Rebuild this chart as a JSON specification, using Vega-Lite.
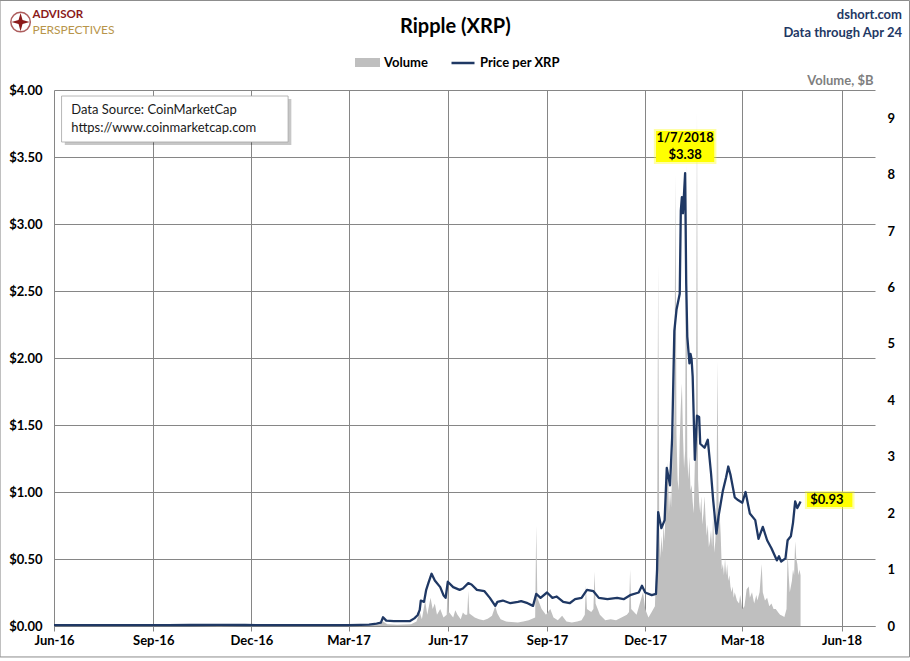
{
  "$schema": "https://vega.github.io/schema/vega-lite/v6.json",
  "width": 821,
  "height": 536,
  "autosize": {"type": "none"},
  "padding": {"left": 54, "top": 90, "right": 35, "bottom": 35},
  "background": "#ffffff",
  "config": {"view": {"stroke": null}, "font": "Lato", "text": {"font": "Lato"}},
  "encoding": {
    "x": {
      "field": "date",
      "type": "temporal",
      "scale": {"domain": [{"year": 2016, "month": 6, "date": 1}, {"year": 2018, "month": 7, "date": 2}], "nice": false},
      "axis": {
        "values": [
          {"year": 2016, "month": 6, "date": 1}, {"year": 2016, "month": 9, "date": 1}, {"year": 2016, "month": 12, "date": 1},
          {"year": 2017, "month": 3, "date": 1}, {"year": 2017, "month": 6, "date": 1}, {"year": 2017, "month": 9, "date": 1},
          {"year": 2017, "month": 12, "date": 1}, {"year": 2018, "month": 3, "date": 1}, {"year": 2018, "month": 6, "date": 1}
        ],
        "format": "%b-%y",
        "title": null,
        "grid": true,
        "gridColor": "#868686",
        "gridWidth": 1,
        "gridOpacity": 1,
        "tickColor": "#868686",
        "tickSize": 5,
        "domainColor": "#868686",
        "labelPadding": 3,
        "labelFlush": false,
        "labelOverlap": false,
        "labelFontSize": 13,
        "labelFontWeight": "bold",
        "labelColor": "#000000"
      }
    }
  },
  "layer": [
    {
      "data": {"values": [
        {"date": "2016-06-01", "vol": 0.003}, {"date": "2016-09-01", "vol": 0.002}, {"date": "2016-12-01", "vol": 0.003},
        {"date": "2017-03-01", "vol": 0.004}, {"date": "2017-03-20", "vol": 0.01}, {"date": "2017-03-30", "vol": 0.03},
        {"date": "2017-04-02", "vol": 0.08}, {"date": "2017-04-06", "vol": 0.03}, {"date": "2017-04-15", "vol": 0.02},
        {"date": "2017-04-28", "vol": 0.03}, {"date": "2017-05-03", "vol": 0.08}, {"date": "2017-05-06", "vol": 0.25},
        {"date": "2017-05-08", "vol": 0.12}, {"date": "2017-05-11", "vol": 0.45}, {"date": "2017-05-13", "vol": 0.2},
        {"date": "2017-05-16", "vol": 0.5}, {"date": "2017-05-18", "vol": 0.3}, {"date": "2017-05-20", "vol": 0.4},
        {"date": "2017-05-22", "vol": 0.2}, {"date": "2017-05-25", "vol": 0.3}, {"date": "2017-05-28", "vol": 0.15},
        {"date": "2017-05-31", "vol": 0.2}, {"date": "2017-06-01", "vol": 0.78}, {"date": "2017-06-02", "vol": 0.25},
        {"date": "2017-06-06", "vol": 0.15}, {"date": "2017-06-08", "vol": 0.28}, {"date": "2017-06-10", "vol": 0.2},
        {"date": "2017-06-13", "vol": 0.12}, {"date": "2017-06-15", "vol": 0.24},
        {"date": "2017-06-17", "vol": 0.2}, {"date": "2017-06-19", "vol": 0.2}, {"date": "2017-06-20", "vol": 0.62},
        {"date": "2017-06-21", "vol": 0.22}, {"date": "2017-06-26", "vol": 0.15}, {"date": "2017-06-30", "vol": 0.12},
        {"date": "2017-07-04", "vol": 0.1}, {"date": "2017-07-08", "vol": 0.13}, {"date": "2017-07-12", "vol": 0.18},
        {"date": "2017-07-15", "vol": 0.35}, {"date": "2017-07-17", "vol": 0.22}, {"date": "2017-07-20", "vol": 0.12},
        {"date": "2017-07-25", "vol": 0.08}, {"date": "2017-07-30", "vol": 0.07}, {"date": "2017-08-05", "vol": 0.06},
        {"date": "2017-08-10", "vol": 0.08}, {"date": "2017-08-15", "vol": 0.1}, {"date": "2017-08-21", "vol": 0.15},
        {"date": "2017-08-22", "vol": 1.78}, {"date": "2017-08-23", "vol": 0.5}, {"date": "2017-08-27", "vol": 0.3},
        {"date": "2017-08-31", "vol": 0.2}, {"date": "2017-09-04", "vol": 0.3}, {"date": "2017-09-07", "vol": 0.15},
        {"date": "2017-09-11", "vol": 0.1}, {"date": "2017-09-15", "vol": 0.18}, {"date": "2017-09-19", "vol": 0.08},
        {"date": "2017-09-24", "vol": 0.06}, {"date": "2017-09-29", "vol": 0.08}, {"date": "2017-10-03", "vol": 0.1},
        {"date": "2017-10-06", "vol": 0.2}, {"date": "2017-10-07", "vol": 0.72}, {"date": "2017-10-08", "vol": 0.3},
        {"date": "2017-10-12", "vol": 0.25}, {"date": "2017-10-14", "vol": 0.3}, {"date": "2017-10-15", "vol": 0.96},
        {"date": "2017-10-16", "vol": 0.4}, {"date": "2017-10-20", "vol": 0.2}, {"date": "2017-10-25", "vol": 0.1},
        {"date": "2017-10-30", "vol": 0.12}, {"date": "2017-11-04", "vol": 0.1}, {"date": "2017-11-09", "vol": 0.15},
        {"date": "2017-11-14", "vol": 0.2}, {"date": "2017-11-16", "vol": 0.25}, {"date": "2017-11-17", "vol": 1.0},
        {"date": "2017-11-18", "vol": 0.3}, {"date": "2017-11-23", "vol": 0.2}, {"date": "2017-11-26", "vol": 0.4},
        {"date": "2017-11-29", "vol": 0.6}, {"date": "2017-12-01", "vol": 0.3}, {"date": "2017-12-04", "vol": 0.15},
        {"date": "2017-12-07", "vol": 0.25}, {"date": "2017-12-10", "vol": 0.35}, {"date": "2017-12-12", "vol": 1.5},
        {"date": "2017-12-13", "vol": 6.4}, {"date": "2017-12-14", "vol": 1.7}, {"date": "2017-12-15", "vol": 1.2},
        {"date": "2017-12-16", "vol": 1.6}, {"date": "2017-12-17", "vol": 1.3}, {"date": "2017-12-18", "vol": 1.8},
        {"date": "2017-12-19", "vol": 1.5}, {"date": "2017-12-20", "vol": 2.3}, {"date": "2017-12-21", "vol": 2.6},
        {"date": "2017-12-22", "vol": 2.9}, {"date": "2017-12-23", "vol": 2.0}, {"date": "2017-12-24", "vol": 2.4},
        {"date": "2017-12-25", "vol": 2.1}, {"date": "2017-12-26", "vol": 2.8}, {"date": "2017-12-27", "vol": 3.3},
        {"date": "2017-12-28", "vol": 3.6}, {"date": "2017-12-29", "vol": 8.0}, {"date": "2017-12-30", "vol": 3.4},
        {"date": "2017-12-31", "vol": 2.6}, {"date": "2018-01-01", "vol": 2.4}, {"date": "2018-01-02", "vol": 3.3},
        {"date": "2018-01-03", "vol": 3.9}, {"date": "2018-01-04", "vol": 4.3}, {"date": "2018-01-05", "vol": 3.4},
        {"date": "2018-01-06", "vol": 2.8}, {"date": "2018-01-07", "vol": 3.1}, {"date": "2018-01-08", "vol": 8.2},
        {"date": "2018-01-09", "vol": 3.0}, {"date": "2018-01-10", "vol": 2.6}, {"date": "2018-01-11", "vol": 3.0},
        {"date": "2018-01-12", "vol": 2.4}, {"date": "2018-01-13", "vol": 2.5}, {"date": "2018-01-14", "vol": 2.2},
        {"date": "2018-01-15", "vol": 2.0}, {"date": "2018-01-16", "vol": 2.9}, {"date": "2018-01-17", "vol": 3.4},
        {"date": "2018-01-18", "vol": 9.1}, {"date": "2018-01-19", "vol": 2.6}, {"date": "2018-01-20", "vol": 2.2},
        {"date": "2018-01-21", "vol": 2.0}, {"date": "2018-01-22", "vol": 2.3}, {"date": "2018-01-23", "vol": 1.8},
        {"date": "2018-01-24", "vol": 2.0}, {"date": "2018-01-25", "vol": 2.3}, {"date": "2018-01-26", "vol": 1.9},
        {"date": "2018-01-27", "vol": 1.6}, {"date": "2018-01-28", "vol": 1.8}, {"date": "2018-01-29", "vol": 1.4},
        {"date": "2018-01-30", "vol": 1.5}, {"date": "2018-01-31", "vol": 1.7}, {"date": "2018-02-01", "vol": 1.4},
        {"date": "2018-02-02", "vol": 2.0}, {"date": "2018-02-03", "vol": 1.3}, {"date": "2018-02-04", "vol": 1.5},
        {"date": "2018-02-05", "vol": 2.1}, {"date": "2018-02-06", "vol": 4.7}, {"date": "2018-02-07", "vol": 2.1},
        {"date": "2018-02-08", "vol": 2.0}, {"date": "2018-02-09", "vol": 1.6}, {"date": "2018-02-10", "vol": 1.0},
        {"date": "2018-02-11", "vol": 1.1}, {"date": "2018-02-12", "vol": 0.9}, {"date": "2018-02-13", "vol": 1.2},
        {"date": "2018-02-14", "vol": 0.9}, {"date": "2018-02-15", "vol": 1.1}, {"date": "2018-02-16", "vol": 0.8},
        {"date": "2018-02-17", "vol": 0.9}, {"date": "2018-02-18", "vol": 0.7}, {"date": "2018-02-19", "vol": 0.6},
        {"date": "2018-02-20", "vol": 0.7}, {"date": "2018-02-21", "vol": 0.5}, {"date": "2018-02-22", "vol": 0.6},
        {"date": "2018-02-24", "vol": 0.45}, {"date": "2018-02-26", "vol": 0.4}, {"date": "2018-02-27", "vol": 0.55},
        {"date": "2018-03-01", "vol": 0.3}, {"date": "2018-03-03", "vol": 0.35}, {"date": "2018-03-05", "vol": 0.65},
        {"date": "2018-03-07", "vol": 0.7}, {"date": "2018-03-08", "vol": 0.5}, {"date": "2018-03-10", "vol": 0.6},
        {"date": "2018-03-12", "vol": 0.4}, {"date": "2018-03-14", "vol": 0.55}, {"date": "2018-03-15", "vol": 0.45},
        {"date": "2018-03-17", "vol": 0.6}, {"date": "2018-03-19", "vol": 1.1}, {"date": "2018-03-20", "vol": 0.6},
        {"date": "2018-03-22", "vol": 0.45}, {"date": "2018-03-24", "vol": 0.5}, {"date": "2018-03-26", "vol": 0.35},
        {"date": "2018-03-28", "vol": 0.4}, {"date": "2018-03-30", "vol": 0.3}, {"date": "2018-04-01", "vol": 0.3},
        {"date": "2018-04-03", "vol": 0.25}, {"date": "2018-04-05", "vol": 0.2}, {"date": "2018-04-07", "vol": 0.18},
        {"date": "2018-04-09", "vol": 0.16}, {"date": "2018-04-11", "vol": 0.3}, {"date": "2018-04-12", "vol": 1.3},
        {"date": "2018-04-13", "vol": 0.9}, {"date": "2018-04-14", "vol": 0.6}, {"date": "2018-04-16", "vol": 0.8},
        {"date": "2018-04-17", "vol": 1.0}, {"date": "2018-04-18", "vol": 0.9}, {"date": "2018-04-19", "vol": 1.5},
        {"date": "2018-04-20", "vol": 1.2}, {"date": "2018-04-21", "vol": 1.1}, {"date": "2018-04-22", "vol": 0.9},
        {"date": "2018-04-23", "vol": 1.0}, {"date": "2018-04-24", "vol": 0.9}
      ]},
      "mark": {"type": "area", "interpolate": "linear"},
      "encoding": {
        "y": {
          "field": "vol",
          "type": "quantitative",
          "scale": {"domain": [0, 9.5], "nice": false},
          "axis": {
            "orient": "right",
            "values": [0, 1, 2, 3, 4, 5, 6, 7, 8, 9],
            "grid": false,
            "ticks": false,
            "domain": false,
            "labelPadding": 12,
            "labelFontSize": 13,
            "labelFontWeight": "bold",
            "labelColor": "#000000",
            "title": "Volume, $B",
            "titleAngle": 0,
            "titleAlign": "right",
            "titleBaseline": "middle",
            "titleX": -2,
            "titleY": -10,
            "titleColor": "#7F7F7F",
            "titleFontSize": 13,
            "titleFontWeight": "bold"
          }
        },
        "fill": {
          "datum": "Volume",
          "type": "nominal",
          "scale": {"domain": ["Volume"], "range": ["#BFBFBF"]},
          "legend": {
            "orient": "none",
            "legendX": 301,
            "legendY": -40,
            "title": null,
            "symbolType": "M-1,-0.36H1V0.36H-1Z",
            "symbolSize": 625,
            "symbolStrokeWidth": 0,
            "labelFontSize": 13,
            "labelFontWeight": "bold",
            "labelColor": "#000000",
            "labelOffset": 4
          }
        }
      }
    },
    {
      "encoding": {
        "y": {
          "field": "price",
          "type": "quantitative",
          "scale": {"domain": [0, 4], "nice": false},
          "axis": {
            "orient": "left",
            "values": [0, 0.5, 1, 1.5, 2, 2.5, 3, 3.5, 4],
            "format": "$.2f",
            "grid": true,
            "gridColor": "#868686",
            "gridOpacity": 1,
            "ticks": false,
            "domain": false,
            "labelPadding": 12,
            "labelFontSize": 13,
            "labelFontWeight": "bold",
            "labelColor": "#000000",
            "title": null
          }
        }
      },
      "layer": [
        {
          "data": {"values": [
            {"date": "2016-06-01", "price": 0.006}, {"date": "2016-06-20", "price": 0.0065}, {"date": "2016-07-10", "price": 0.0068},
            {"date": "2016-08-01", "price": 0.0062}, {"date": "2016-08-25", "price": 0.006}, {"date": "2016-09-15", "price": 0.0058},
            {"date": "2016-10-05", "price": 0.0075}, {"date": "2016-11-01", "price": 0.0078}, {"date": "2016-11-25", "price": 0.0075},
            {"date": "2016-12-15", "price": 0.0065}, {"date": "2017-01-10", "price": 0.0062}, {"date": "2017-02-05", "price": 0.0064},
            {"date": "2017-03-01", "price": 0.0063}, {"date": "2017-03-12", "price": 0.008}, {"date": "2017-03-20", "price": 0.01},
            {"date": "2017-03-27", "price": 0.018}, {"date": "2017-03-31", "price": 0.025}, {"date": "2017-04-02", "price": 0.065},
            {"date": "2017-04-05", "price": 0.04}, {"date": "2017-04-12", "price": 0.037}, {"date": "2017-04-20", "price": 0.037},
            {"date": "2017-04-27", "price": 0.037}, {"date": "2017-05-01", "price": 0.057}, {"date": "2017-05-04", "price": 0.08},
            {"date": "2017-05-06", "price": 0.12}, {"date": "2017-05-07", "price": 0.19}, {"date": "2017-05-10", "price": 0.18},
            {"date": "2017-05-12", "price": 0.27}, {"date": "2017-05-14", "price": 0.32}, {"date": "2017-05-17", "price": 0.39},
            {"date": "2017-05-20", "price": 0.34}, {"date": "2017-05-25", "price": 0.29}, {"date": "2017-05-28", "price": 0.23},
            {"date": "2017-05-30", "price": 0.21}, {"date": "2017-06-01", "price": 0.33}, {"date": "2017-06-06", "price": 0.29},
            {"date": "2017-06-12", "price": 0.27}, {"date": "2017-06-15", "price": 0.28}, {"date": "2017-06-20", "price": 0.32},
            {"date": "2017-06-23", "price": 0.31}, {"date": "2017-06-28", "price": 0.27}, {"date": "2017-07-05", "price": 0.26},
            {"date": "2017-07-10", "price": 0.21}, {"date": "2017-07-15", "price": 0.15}, {"date": "2017-07-17", "price": 0.18},
            {"date": "2017-07-22", "price": 0.19}, {"date": "2017-07-29", "price": 0.17}, {"date": "2017-08-05", "price": 0.18},
            {"date": "2017-08-08", "price": 0.185}, {"date": "2017-08-14", "price": 0.17}, {"date": "2017-08-19", "price": 0.15},
            {"date": "2017-08-22", "price": 0.24}, {"date": "2017-08-26", "price": 0.21}, {"date": "2017-09-01", "price": 0.25},
            {"date": "2017-09-06", "price": 0.21}, {"date": "2017-09-10", "price": 0.22}, {"date": "2017-09-16", "price": 0.18},
            {"date": "2017-09-22", "price": 0.17}, {"date": "2017-09-27", "price": 0.2}, {"date": "2017-10-03", "price": 0.21},
            {"date": "2017-10-08", "price": 0.27}, {"date": "2017-10-14", "price": 0.26}, {"date": "2017-10-19", "price": 0.21},
            {"date": "2017-10-27", "price": 0.2}, {"date": "2017-11-05", "price": 0.21}, {"date": "2017-11-11", "price": 0.2},
            {"date": "2017-11-17", "price": 0.23}, {"date": "2017-11-25", "price": 0.25}, {"date": "2017-11-28", "price": 0.3},
            {"date": "2017-12-01", "price": 0.25}, {"date": "2017-12-07", "price": 0.23}, {"date": "2017-12-11", "price": 0.24},
            {"date": "2017-12-12", "price": 0.42}, {"date": "2017-12-13", "price": 0.85}, {"date": "2017-12-16", "price": 0.73},
            {"date": "2017-12-19", "price": 0.79}, {"date": "2017-12-21", "price": 1.18}, {"date": "2017-12-24", "price": 1.05},
            {"date": "2017-12-26", "price": 1.41}, {"date": "2017-12-28", "price": 2.2}, {"date": "2017-12-30", "price": 2.36},
            {"date": "2018-01-02", "price": 2.48}, {"date": "2018-01-03", "price": 3.1}, {"date": "2018-01-04", "price": 3.2},
            {"date": "2018-01-05", "price": 3.08}, {"date": "2018-01-07", "price": 3.38}, {"date": "2018-01-08", "price": 2.56},
            {"date": "2018-01-09", "price": 2.16}, {"date": "2018-01-11", "price": 1.96}, {"date": "2018-01-12", "price": 2.03},
            {"date": "2018-01-13", "price": 1.99}, {"date": "2018-01-14", "price": 1.86}, {"date": "2018-01-16", "price": 1.24},
            {"date": "2018-01-18", "price": 1.57}, {"date": "2018-01-20", "price": 1.56}, {"date": "2018-01-21", "price": 1.36},
            {"date": "2018-01-25", "price": 1.33}, {"date": "2018-01-28", "price": 1.39}, {"date": "2018-01-31", "price": 1.14},
            {"date": "2018-02-02", "price": 0.94}, {"date": "2018-02-05", "price": 0.69}, {"date": "2018-02-07", "price": 0.82},
            {"date": "2018-02-11", "price": 1.01}, {"date": "2018-02-14", "price": 1.11}, {"date": "2018-02-16", "price": 1.19},
            {"date": "2018-02-18", "price": 1.13}, {"date": "2018-02-22", "price": 0.96}, {"date": "2018-02-25", "price": 0.94},
            {"date": "2018-03-01", "price": 0.92}, {"date": "2018-03-04", "price": 1.0}, {"date": "2018-03-08", "price": 0.84},
            {"date": "2018-03-13", "price": 0.79}, {"date": "2018-03-16", "price": 0.65}, {"date": "2018-03-20", "price": 0.74},
            {"date": "2018-03-24", "price": 0.64}, {"date": "2018-03-28", "price": 0.58}, {"date": "2018-04-02", "price": 0.49},
            {"date": "2018-04-04", "price": 0.52}, {"date": "2018-04-06", "price": 0.48}, {"date": "2018-04-10", "price": 0.505},
            {"date": "2018-04-12", "price": 0.64}, {"date": "2018-04-15", "price": 0.67}, {"date": "2018-04-17", "price": 0.77},
            {"date": "2018-04-19", "price": 0.93}, {"date": "2018-04-21", "price": 0.88}, {"date": "2018-04-24", "price": 0.93}
          ]},
          "mark": {"type": "line", "strokeWidth": 2.3, "strokeJoin": "round"},
          "encoding": {
            "stroke": {
              "datum": "Price per XRP",
              "type": "nominal",
              "scale": {"domain": ["Price per XRP"], "range": ["#1F3864"]},
              "legend": {
                "orient": "none",
                "legendX": 396,
                "legendY": -40,
                "title": null,
                "symbolType": "stroke",
                "symbolSize": 529,
                "symbolStrokeWidth": 2.5,
                "labelFontSize": 13,
                "labelFontWeight": "bold",
                "labelColor": "#000000",
                "labelOffset": 4
              }
            }
          }
        },
        {
          "data": {"values": [{"date": "2016-04-12", "date2": "2018-08-03", "price": 4.668, "price2": -0.231}]},
          "mark": {"type": "rect", "fillOpacity": 0, "stroke": "#8C8C8C", "strokeWidth": 1},
          "encoding": {"x2": {"field": "date2"}, "y2": {"field": "price2"}}
        },
        {
          "data": {"values": [{"date": "2016-06-11", "date2": "2017-01-07", "price": 3.933, "price2": 3.59}]},
          "mark": {"type": "rect", "fill": "#000000", "fillOpacity": 0.22},
          "encoding": {"x2": {"field": "date2"}, "y2": {"field": "price2"}}
        },
        {
          "data": {"values": [{"date": "2016-06-08", "date2": "2017-01-04", "price": 3.955, "price2": 3.612}]},
          "mark": {"type": "rect", "fill": "#ffffff", "stroke": "#A6A6A6", "strokeWidth": 0.8},
          "encoding": {"x2": {"field": "date2"}, "y2": {"field": "price2"}}
        },
        {
          "data": {"values": [
            {"date": "2016-06-17", "price": 3.851, "label": "Data Source: CoinMarketCap"},
            {"date": "2016-06-17", "price": 3.716, "label": "https://www.coinmarketcap.com"}
          ]},
          "mark": {"type": "text", "align": "left", "baseline": "middle", "fontSize": 13, "color": "#1A1A1A"},
          "encoding": {"text": {"field": "label"}}
        },
        {
          "data": {"values": [
            {"date": "2017-12-09", "date2": "2018-02-05", "price": 3.709, "price2": 3.448},
            {"date": "2018-04-28", "date2": "2018-06-13", "price": 1.007, "price2": 0.873}
          ]},
          "mark": {"type": "rect", "fill": "#FFFF00", "fillOpacity": 0.35},
          "encoding": {"x2": {"field": "date2"}, "y2": {"field": "price2"}}
        },
        {
          "data": {"values": [
            {"date": "2017-12-11", "date2": "2018-02-03", "price": 3.694, "price2": 3.463},
            {"date": "2018-04-30", "date2": "2018-06-11", "price": 0.993, "price2": 0.888}
          ]},
          "mark": {"type": "rect", "fill": "#FFFF00"},
          "encoding": {"x2": {"field": "date2"}, "y2": {"field": "price2"}}
        },
        {
          "data": {"values": [
            {"date": "2018-01-07", "price": 3.642, "label": "1/7/2018"},
            {"date": "2018-01-07", "price": 3.515, "label": "$3.38"}
          ]},
          "mark": {"type": "text", "align": "center", "baseline": "middle", "fontSize": 13, "fontWeight": "bold", "color": "#000000"},
          "encoding": {"text": {"field": "label"}}
        },
        {
          "data": {"values": [{"date": "2018-05-03", "price": 0.94, "label": "$0.93"}]},
          "mark": {"type": "text", "align": "left", "baseline": "middle", "fontSize": 13, "fontWeight": "bold", "color": "#000000"},
          "encoding": {"text": {"field": "label"}}
        },
        {
          "data": {"values": [{"date": "2017-06-08", "price": 4.47, "label": "Ripple (XRP)"}]},
          "mark": {"type": "text", "align": "center", "baseline": "middle", "fontSize": 20, "fontWeight": "bold", "color": "#000000"},
          "encoding": {"text": {"field": "label"}}
        },
        {
          "data": {"values": [
            {"date": "2018-07-27", "price": 4.56, "label": "dshort.com"},
            {"date": "2018-07-27", "price": 4.425, "label": "Data through Apr 24"}
          ]},
          "mark": {"type": "text", "align": "right", "baseline": "middle", "fontSize": 13, "fontWeight": "bold", "color": "#1F3864"},
          "encoding": {"text": {"field": "label"}}
        },
        {
          "data": {"values": [{"date": "2016-05-01", "price": 4.507}]},
          "mark": {"type": "point", "shape": "circle", "size": 380, "filled": false, "stroke": "#8B1A1A", "strokeWidth": 1.5},
          "encoding": {}
        },
        {
          "data": {"values": [{"date": "2016-05-01", "price": 4.507}]},
          "mark": {"type": "point", "shape": "M0,-1L0.22,-0.22L1,0L0.22,0.22L0,1L-0.22,0.22L-1,0L-0.22,-0.22Z", "size": 330, "filled": true, "fill": "#8B1A1A", "opacity": 1},
          "encoding": {}
        },
        {
          "data": {"values": [{"date": "2016-05-12", "price": 4.56, "label": "ADVISOR"}]},
          "mark": {"type": "text", "align": "left", "baseline": "middle", "fontSize": 11.5, "fontWeight": "bold", "color": "#8B1A1A"},
          "encoding": {"text": {"field": "label"}}
        },
        {
          "data": {"values": [{"date": "2016-05-12", "price": 4.448, "label": "PERSPECTIVES"}]},
          "mark": {"type": "text", "align": "left", "baseline": "middle", "fontSize": 12, "color": "#B8954A"},
          "encoding": {"text": {"field": "label"}}
        }
      ]
    }
  ],
  "resolve": {"scale": {"y": "independent"}}
}
